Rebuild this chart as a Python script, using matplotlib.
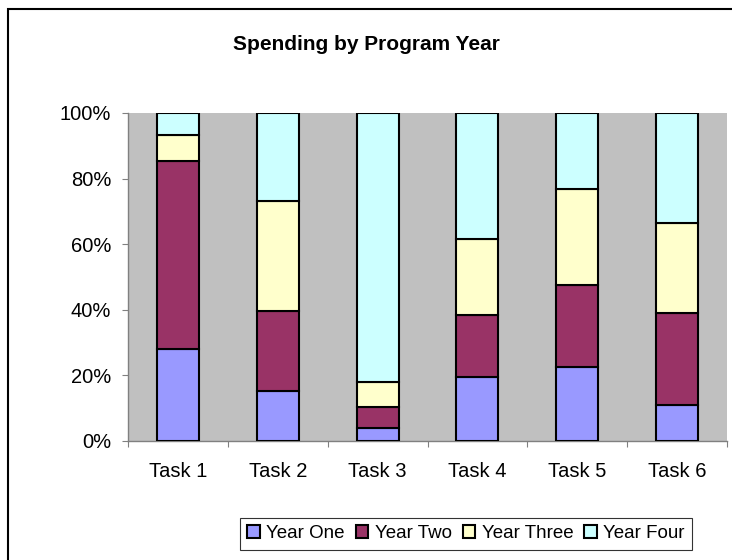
import matplotlib
matplotlib.use("Agg")
import matplotlib.pyplot as plt
from matplotlib.patches import Rectangle
import numpy as np

plt.rcParams['font.family'] = ['Liberation Sans', 'DejaVu Sans']

tasks = ["Task 1", "Task 2", "Task 3", "Task 4", "Task 5", "Task 6"]
series = ["Year One", "Year Two", "Year Three", "Year Four"]
colors = ["#9999FF", "#993366", "#FFFFCC", "#CCFFFF"]

# share of spending per task (percent)
year_one = [28.0, 15.2, 4.1, 19.4, 22.5, 10.9]
year_two = [57.3, 24.4, 6.3, 19.0, 25.0, 28.0]
year_three = [8.0, 33.6, 7.7, 23.1, 29.2, 27.5]
year_four = [6.7, 26.8, 81.9, 38.5, 23.3, 33.6]

values = np.array([year_one, year_two, year_three, year_four])
values = values / values.sum(axis=0)  # 100% stacked

W, H = 732, 560
fig = plt.figure(figsize=(W / 100, H / 100), dpi=100)
ax = fig.add_axes([128 / W, (H - 441) / H, (727 - 128) / W, (441 - 113) / H])
ax.set_facecolor("#C0C0C0")

x = np.arange(len(tasks))
bottom = np.zeros(len(tasks))
for vals, name, col in zip(values, series, colors):
    ax.bar(x, vals, 0.42, bottom=bottom, color=col, edgecolor="black",
           linewidth=1.5, label=name, zorder=3)
    bottom += vals

ax.set_xlim(-0.5, len(tasks) - 0.5)
ax.set_ylim(0, 1)
ax.set_yticks(np.linspace(0, 1, 6))
ax.set_yticklabels([f"{int(v)}%" for v in np.linspace(0, 100, 6)])

# ticks between categories, labels at the centres
ax.set_xticks(np.arange(-0.5, len(tasks), 1.0))
ax.set_xticklabels([])
ax.set_xticks(x, minor=True)
ax.set_xticklabels(tasks, minor=True)
ax.tick_params(axis="x", which="major", direction="out", length=4, color="#808080")
ax.tick_params(axis="x", which="minor", length=0, pad=15, labelsize=14.5)
ax.tick_params(axis="y", direction="out", length=4, color="#808080", pad=8, labelsize=14.5)

for side in ["top", "right"]:
    ax.spines[side].set_visible(False)
for side in ["left", "bottom"]:
    ax.spines[side].set_color("#808080")
    ax.spines[side].set_linewidth(1.0)

fig.text(366 / W, 1 - 45 / H, "Spending by Program Year", ha="center", va="center",
         fontsize=15, fontweight="bold")

leg = fig.legend(loc="center", bbox_to_anchor=(466 / W, 1 - 533.5 / H), ncol=4,
                 frameon=True, fancybox=False, edgecolor="black", fontsize=13.5,
                 handlelength=0.65, handleheight=0.65, handletextpad=0.35,
                 columnspacing=0.6, borderpad=0.4)
leg.get_frame().set_linewidth(0.8)

# chart border (cut off at the right and bottom)
fig.patches.append(Rectangle((8 / W, -0.1), 1.2, 1.1 - 9 / H, transform=fig.transFigure,
                             fill=False, edgecolor="black", linewidth=1.5))

fig.savefig("out.png", dpi=100)
